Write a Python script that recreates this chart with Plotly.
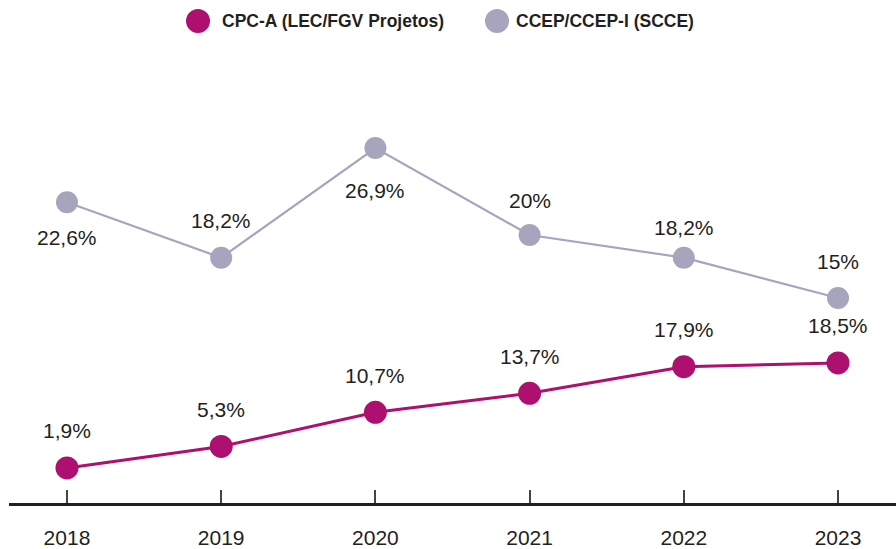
import plotly.graph_objects as go

# Series data
years = ["2018", "2019", "2020", "2021", "2022", "2023"]
cpca = [1.9, 5.3, 10.7, 13.7, 17.9, 18.5]
ccep = [22.6, 18.2, 26.9, 20.0, 18.2, 15.0]

series_names = ["CPC-A (LEC/FGV Projetos)", "CCEP/CCEP-I (SCCE)"]

# Styling
MAGENTA = "#AD106E"
LAVENDER = "#A7A4BE"
INK = "#231F20"
FONT = "Liberation Sans, Arial, Helvetica, sans-serif"

# Value label placement: vertical pixel offset from the marker
cpca_label_shift = [37, 37, 37, 37, 37, 37]
ccep_label_shift = [-35, 37, -43, 34, 30, 37]


def fmt(v):
    return f"{v:g}".replace(".", ",") + "%"


x_idx = list(range(len(years)))

fig = go.Figure()

fig.add_trace(go.Scatter(
    x=x_idx, y=ccep, yaxis="y2", mode="lines+markers",
    name=series_names[1], showlegend=False, hoverinfo="skip",
    line=dict(color=LAVENDER, width=2.2),
    marker=dict(color=LAVENDER, size=22),
))
fig.add_trace(go.Scatter(
    x=x_idx, y=cpca, yaxis="y", mode="lines+markers",
    name=series_names[0], showlegend=False, hoverinfo="skip",
    line=dict(color=MAGENTA, width=3),
    marker=dict(color=MAGENTA, size=23),
))

annotations = []
for i, v in enumerate(cpca):
    annotations.append(dict(
        x=i, y=v, xref="x", yref="y", text=fmt(v), showarrow=False,
        yshift=cpca_label_shift[i], font=dict(family=FONT, size=21, color=INK),
    ))
for i, v in enumerate(ccep):
    annotations.append(dict(
        x=i, y=v, xref="x", yref="y2", text=fmt(v), showarrow=False,
        yshift=ccep_label_shift[i], font=dict(family=FONT, size=21, color=INK),
    ))

# Custom legend: large dots followed by bold labels
legend_items = [(0.2131, 0.2379, MAGENTA, series_names[0]),
                (0.5502, 0.5693, LAVENDER, series_names[1])]
shapes = []
for cx, tx, col, label in legend_items:
    shapes.append(dict(
        type="circle", xref="paper", yref="paper",
        xsizemode="pixel", ysizemode="pixel",
        xanchor=cx, yanchor=1.088,
        x0=-12, x1=12, y0=-12, y1=12,
        fillcolor=col, line=dict(width=0),
    ))
    annotations.append(dict(
        x=tx, y=1.088, xref="paper", yref="paper", text=f"<b>{label}</b>",
        xanchor="left", yanchor="middle", showarrow=False,
        font=dict(family=FONT, size=17.5, color=INK),
    ))

fig.update_layout(
    width=896, height=549,
    margin=dict(l=9, r=0, t=60, b=46),
    paper_bgcolor="white", plot_bgcolor="white",
    showlegend=False,
    xaxis=dict(
        range=[-0.376, 5.376],
        tickmode="array", tickvals=x_idx, ticktext=years,
        showline=True, linecolor=INK, linewidth=2.5,
        ticks="inside", ticklen=13, tickwidth=1.5, tickcolor="#444",
        ticklabelstandoff=14, automargin=False,
        tickfont=dict(family=FONT, size=21, color=INK),
        showgrid=False, zeroline=False, fixedrange=True,
    ),
    yaxis=dict(
        range=[-3.63, 66.35], visible=False, showgrid=False, zeroline=False,
        automargin=False,
    ),
    yaxis2=dict(
        range=[-1.26, 33.88], overlaying="y", visible=False,
        showgrid=False, zeroline=False, automargin=False,
    ),
    shapes=shapes,
    annotations=annotations,
)

fig.write_html("out.html")
